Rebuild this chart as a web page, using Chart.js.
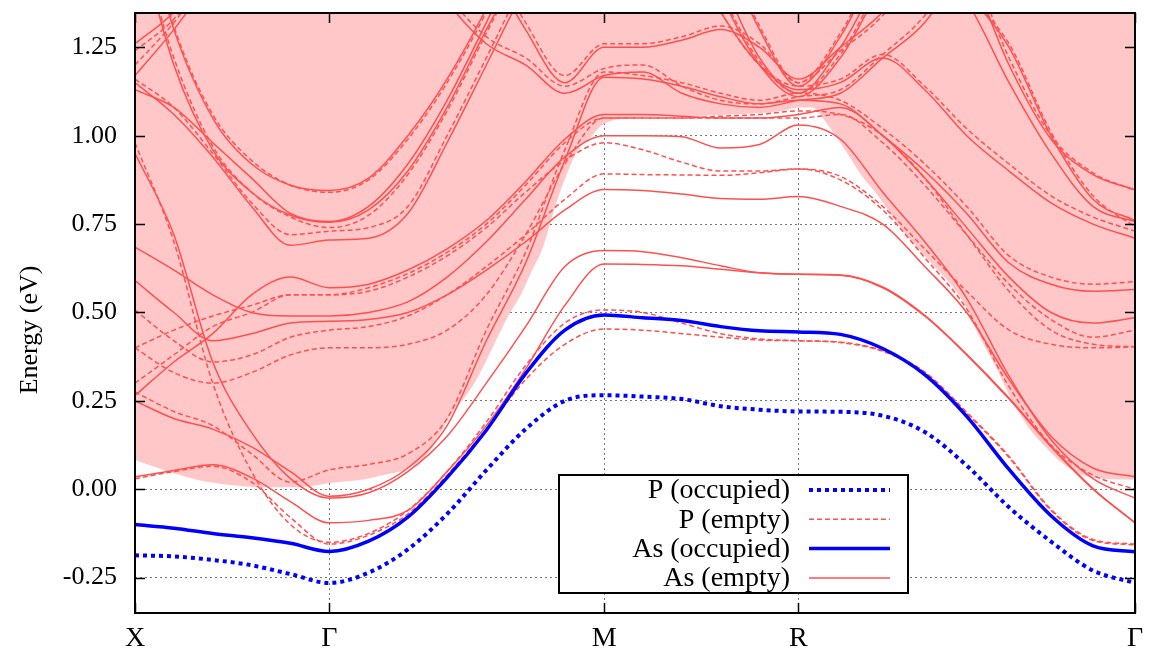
<!DOCTYPE html>
<html>
<head>
<meta charset="utf-8">
<script src="https://cdn.jsdelivr.net/npm/chart.js@4.4.1/dist/chart.umd.min.js"></script>
<style>
  body { margin: 0; background: #fff; }
  #wrap { width: 1156px; height: 657px; }
</style>
</head>
<body>
<div id="wrap"><canvas id="bands" width="1156" height="657"></canvas></div>
<script>
// k-path (units of 2pi/a): X - Gamma - M - R - Gamma
const kPoints = [0, 0.1, 0.2, 0.3, 0.4, 0.5,
  0.601, 0.702, 0.803, 0.904, 1.005, 1.106, 1.2071,
  1.307, 1.407, 1.507, 1.607, 1.7071,
  1.815, 1.924, 2.032, 2.140, 2.249, 2.357, 2.465, 2.5731];
const kTicks = [0, 0.5, 1.2071, 1.7071, 2.5731];
const kLabels = ['X', 'Γ', 'M', 'R', 'Γ'];
const energyTicks = [-0.25, 0, 0.25, 0.5, 0.75, 1.0, 1.25];

// occupied bands (eV)
const asOccupied = [-0.10, -0.11, -0.125, -0.137, -0.153, -0.176,
  -0.147, -0.079, 0.033, 0.167, 0.327, 0.45, 0.493,
  0.485, 0.477, 0.46, 0.448, 0.445,
  0.438, 0.398, 0.324, 0.206, 0.056, -0.075, -0.16, -0.177];
const pOccupied = [-0.187, -0.19, -0.2, -0.215, -0.24, -0.265,
  -0.236, -0.17, -0.07, 0.054, 0.17, 0.25, 0.266,
  0.262, 0.255, 0.235, 0.225, 0.22,
  0.219, 0.208, 0.162, 0.067, -0.051, -0.148, -0.23, -0.265];

// empty bands (eV)
const asEmpty = [
  [0.035, 0.053, 0.069, 0.033, -0.035, -0.095, -0.088, -0.06, 0.05, 0.18, 0.34, 0.52, 0.637, 0.636, 0.632, 0.622, 0.612, 0.608, 0.605, 0.57, 0.49, 0.38, 0.255, 0.12, 0.0, -0.095],
  [0.95, 0.72, 0.36, 0.16, 0.03, -0.025, -0.01, 0.05, 0.15, 0.3, 0.46, 0.63, 0.675, 0.672, 0.655, 0.632, 0.612, 0.608, 0.606, 0.572, 0.492, 0.382, 0.258, 0.122, 0.002, -0.095],
  [0.59, 0.5, 0.42, 0.44, 0.47, 0.475, 0.48, 0.5, 0.55, 0.62, 0.7, 0.79, 0.848, 0.845, 0.835, 0.822, 0.82, 0.828, 0.8, 0.75, 0.63, 0.5, 0.31, 0.15, 0.06, 0.035],
  [0.685, 0.62, 0.55, 0.5, 0.49, 0.49, 0.5, 0.53, 0.6, 0.7, 0.82, 0.94, 1.0, 1.0, 0.997, 0.965, 0.975, 1.03, 0.99, 0.84, 0.7, 0.54, 0.32, 0.14, 0.03, -0.025],
  [0.265, 0.36, 0.44, 0.55, 0.6, 0.57, 0.58, 0.62, 0.68, 0.76, 0.87, 0.99, 1.06, 1.06, 1.055, 1.05, 1.05, 1.06, 1.08, 1.0, 0.88, 0.74, 0.6, 0.5, 0.47, 0.485],
  [0.25, 0.2, 0.17, 0.12, 0.05, -0.02, 0.0, 0.06, 0.18, 0.42, 0.64, 0.93, 1.165, 1.16, 1.14, 1.11, 1.09, 1.1, 1.09, 1.0, 0.9, 0.78, 0.64, 0.58, 0.56, 0.565],
  [1.7, 1.3, 1.05, 0.92, 0.86, 0.845, 0.88, 1.0, 1.16, 1.36, 1.6, 1.8, 1.9, 1.9, 1.8, 1.55, 1.3, 1.14, 1.28, 1.5, 1.6, 1.48, 1.2, 0.99, 0.89, 0.847],
  [1.6, 1.2, 0.96, 0.84, 0.775, 0.755, 0.79, 0.9, 1.08, 1.3, 1.5, 1.7, 1.8, 1.8, 1.65, 1.4, 1.2, 1.11, 1.22, 1.42, 1.5, 1.4, 1.25, 1.0, 0.82, 0.76],
  [1.15, 1.06, 0.94, 0.8, 0.69, 0.705, 0.71, 0.78, 0.98, 1.2, 1.42, 1.6, 1.7, 1.7, 1.55, 1.35, 1.2, 1.13, 1.15, 1.22, 1.13, 1.0, 0.9, 0.81, 0.75, 0.71],
  [1.17, 1.3, 1.45, 1.6, 1.7, 1.75, 1.7, 1.55, 1.38, 1.26, 1.2, 1.12, 1.17, 1.18, 1.12, 1.09, 1.08, 1.1, 1.12, 1.22, 1.32, 1.5, 1.7, 1.8, 1.85, 1.85],
  [1.13, 1.08, 0.98, 0.88, 0.78, 0.757, 0.8, 0.92, 1.1, 1.32, 1.55, 1.75, 1.85, 1.85, 1.7, 1.45, 1.22, 1.12, 1.25, 1.45, 1.5, 1.38, 1.15, 0.95, 0.8, 0.757],
  [1.26, 1.35, 1.5, 1.7, 1.9, 2.0, 2.0, 1.9, 1.7, 1.5, 1.3, 1.15, 1.25, 1.25, 1.27, 1.3, 1.25, 1.16, 1.25, 1.35, 1.5, 1.7, 1.9, 2.0, 2.0, 2.0]
];
const pEmpty = [
  [0.03, 0.05, 0.065, 0.02, -0.08, -0.155, -0.13, -0.07, 0.04, 0.17, 0.31, 0.41, 0.453, 0.45, 0.44, 0.43, 0.422, 0.42, 0.415, 0.39, 0.33, 0.215, 0.09, -0.06, -0.145, -0.157],
  [0.98, 0.70, 0.3, 0.05, -0.1, -0.15, -0.125, -0.06, 0.05, 0.19, 0.35, 0.47, 0.507, 0.50, 0.47, 0.44, 0.425, 0.42, 0.416, 0.392, 0.332, 0.218, 0.093, -0.057, -0.142, -0.155],
  [0.507, 0.42, 0.36, 0.38, 0.43, 0.45, 0.46, 0.49, 0.55, 0.63, 0.72, 0.82, 0.892, 0.89, 0.889, 0.888, 0.895, 0.906, 0.875, 0.79, 0.655, 0.51, 0.29, 0.125, 0.04, 0.0],
  [0.40, 0.45, 0.49, 0.52, 0.55, 0.55, 0.56, 0.6, 0.66, 0.74, 0.84, 0.93, 0.98, 0.96, 0.925, 0.9, 0.9, 0.906, 0.885, 0.8, 0.68, 0.56, 0.45, 0.41, 0.40, 0.403],
  [0.275, 0.22, 0.18, 0.1, 0.02, 0.055, 0.07, 0.1, 0.2, 0.45, 0.67, 0.96, 1.18, 1.17, 1.15, 1.12, 1.1, 1.12, 1.1, 1.02, 0.92, 0.8, 0.66, 0.6, 0.58, 0.587],
  [0.30, 0.38, 0.46, 0.5, 0.55, 0.55, 0.57, 0.61, 0.67, 0.75, 0.86, 0.98, 1.05, 1.05, 1.05, 1.05, 1.05, 1.05, 1.06, 0.98, 0.86, 0.72, 0.58, 0.48, 0.43, 0.45],
  [1.72, 1.31, 1.06, 0.93, 0.86, 0.84, 0.875, 0.99, 1.15, 1.35, 1.6, 1.8, 1.9, 1.9, 1.8, 1.56, 1.31, 1.15, 1.29, 1.51, 1.6, 1.5, 1.22, 1.0, 0.895, 0.845],
  [1.6, 1.22, 0.97, 0.84, 0.77, 0.74, 0.775, 0.89, 1.07, 1.29, 1.5, 1.7, 1.8, 1.8, 1.66, 1.41, 1.21, 1.12, 1.23, 1.43, 1.5, 1.4, 1.26, 1.01, 0.83, 0.742],
  [1.16, 1.08, 0.95, 0.81, 0.72, 0.73, 0.74, 0.8, 1.0, 1.22, 1.44, 1.6, 1.7, 1.7, 1.55, 1.35, 1.2, 1.14, 1.16, 1.23, 1.14, 1.02, 0.92, 0.83, 0.77, 0.73],
  [0.40, 0.33, 0.3, 0.33, 0.38, 0.40, 0.40, 0.41, 0.45, 0.55, 0.72, 0.92, 1.05, 1.05, 1.05, 1.055, 1.06, 1.07, 1.06, 1.0, 0.88, 0.72, 0.56, 0.45, 0.41, 0.403],
  [1.2, 1.32, 1.47, 1.62, 1.72, 1.76, 1.72, 1.57, 1.4, 1.28, 1.22, 1.14, 1.19, 1.2, 1.14, 1.1, 1.09, 1.11, 1.13, 1.23, 1.34, 1.52, 1.72, 1.82, 1.86, 1.86],
  [1.24, 1.33, 1.48, 1.68, 1.88, 2.0, 2.0, 1.9, 1.72, 1.52, 1.32, 1.17, 1.26, 1.26, 1.28, 1.31, 1.26, 1.15, 1.24, 1.34, 1.5, 1.7, 1.9, 2.0, 2.0, 2.0]
];

// lower edge of the shaded continuum
const continuumK = [0, 0.072, 0.16, 0.244, 0.329, 0.417, 0.502, 0.618, 0.746, 0.816, 0.85, 0.883, 0.917, 0.96, 0.995, 1.022, 1.047, 1.089, 1.14, 1.176, 1.202, 1.276, 1.405, 1.534, 1.662, 1.706, 1.742, 1.783, 1.827, 1.871, 1.912, 1.956, 1.999, 2.041, 2.128, 2.169, 2.213, 2.257, 2.298, 2.342, 2.385, 2.427, 2.470, 2.5731];
const continuumEdge = [0.083, 0.055, 0.027, 0.012, 0.006, 0.006, 0.018, 0.035, 0.092, 0.215, 0.262, 0.319, 0.394, 0.489, 0.555, 0.62, 0.677, 0.826, 0.96, 1.0, 1.03, 1.05, 1.055, 1.06, 1.07, 1.08, 1.08, 1.03, 0.96, 0.885, 0.83, 0.76, 0.70, 0.65, 0.535, 0.44, 0.35, 0.25, 0.177, 0.12, 0.075, 0.045, 0.032, 0.027];

const red = 'rgb(255, 80, 80)';
const blue = 'rgb(0, 0, 255)';
const pink = 'rgb(255, 199, 199)';

function toPoints(values) {
    return values.map((e, i) => ({ x: kPoints[i], y: e }));
}

const datasets = [];
datasets.push({ label: 'P (occupied)', data: toPoints(pOccupied), borderColor: blue, borderWidth: 4, borderDash: [4, 4], order: 0 });
datasets.push({ label: 'As (occupied)', data: toPoints(asOccupied), borderColor: blue, borderWidth: 3.5, order: 0 });
asEmpty.forEach(band => {
    datasets.push({ label: 'As (empty)', data: toPoints(band), borderColor: red, borderWidth: 1.5, order: 1 });
});
pEmpty.forEach(band => {
    datasets.push({ label: 'P (empty)', data: toPoints(band), borderColor: red, borderWidth: 1.5, borderDash: [5, 3], order: 1 });
});
datasets.push({
    label: 'continuum',
    data: continuumEdge.map((e, i) => ({ x: continuumK[i], y: e })),
    borderColor: 'rgba(0,0,0,0)',
    backgroundColor: pink,
    fill: 'end',
    order: 2
});

const legendItems = [
    { text: 'P (occupied)', color: blue, width: 4, dash: [4, 4] },
    { text: 'P (empty)', color: red, width: 1.5, dash: [5, 3] },
    { text: 'As (occupied)', color: blue, width: 3.5, dash: [] },
    { text: 'As (empty)', color: red, width: 1.5, dash: [] }
];

// frame, inward ticks, y title and legend box, drawn like gnuplot
const decorations = {
    id: 'decorations',
    afterDraw(chart) {
        const { ctx, chartArea: a, scales } = chart;
        ctx.save();
        ctx.strokeStyle = '#000';
        ctx.lineWidth = 1.5;
        ctx.setLineDash([]);
        ctx.beginPath();
        energyTicks.forEach(v => {
            const y = Math.round(scales.y.getPixelForValue(v)) + 0.5;
            ctx.moveTo(a.left, y); ctx.lineTo(a.left + 10, y);
            ctx.moveTo(a.right, y); ctx.lineTo(a.right - 10, y);
        });
        kTicks.forEach(k => {
            const x = Math.round(scales.x.getPixelForValue(k)) + 0.5;
            ctx.moveTo(x, a.bottom); ctx.lineTo(x, a.bottom - 10);
            ctx.moveTo(x, a.top); ctx.lineTo(x, a.top + 10);
        });
        ctx.stroke();
        ctx.lineWidth = 2;
        ctx.strokeRect(a.left, a.top, a.right - a.left, a.bottom - a.top);

        ctx.fillStyle = '#000';
        ctx.font = '26px "Liberation Serif"';
        ctx.textAlign = 'center';
        ctx.textBaseline = 'middle';
        ctx.translate(30, 330);
        ctx.rotate(-Math.PI / 2);
        ctx.fillText('Energy (eV)', 0, 0);
        ctx.setTransform(1, 0, 0, 1, 0, 0);

        // legend
        const box = { x: 559, y: 475, w: 349, h: 118 };
        ctx.fillStyle = '#fff';
        ctx.fillRect(box.x, box.y, box.w, box.h);
        ctx.lineWidth = 2;
        ctx.strokeRect(box.x, box.y, box.w, box.h);
        ctx.font = '28px "Liberation Serif"';
        ctx.textAlign = 'right';
        legendItems.forEach((item, i) => {
            const y = 490 + i * 29.3;
            ctx.fillStyle = '#000';
            ctx.fillText(item.text, 790, y + 1);
            ctx.beginPath();
            ctx.strokeStyle = item.color;
            ctx.lineWidth = item.width;
            ctx.setLineDash(item.dash);
            ctx.moveTo(809, y);
            ctx.lineTo(890, y);
            ctx.stroke();
        });
        ctx.restore();
    }
};

Chart.defaults.font.family = '"Liberation Serif"';
Chart.defaults.font.size = 26;
Chart.defaults.color = '#000';

new Chart(document.getElementById('bands'), {
    type: 'line',
    data: { datasets: datasets },
    options: {
        responsive: false,
        animation: false,
        devicePixelRatio: 1,
        layout: { padding: { top: 13, right: 21, left: 0, bottom: 0 } },
        elements: {
            point: { radius: 0 },
            line: { cubicInterpolationMode: 'monotone', fill: false }
        },
        plugins: { legend: { display: false }, tooltip: { enabled: false } },
        scales: {
            x: {
                type: 'linear',
                min: 0,
                max: 2.5731,
                afterBuildTicks: s => { s.ticks = kTicks.map(v => ({ value: v })); },
                afterFit: s => { s.height = 44; s.paddingLeft = 0; s.paddingRight = 0; },
                ticks: {
                    autoSkip: false,
                    maxRotation: 0,
                    padding: 9,
                    font: { size: 28 },
                    callback: (v, i) => kLabels[i]
                },
                grid: { color: '#777', lineWidth: 1, drawTicks: false },
                border: { display: false, dash: [2, 3] }
            },
            y: {
                min: -0.35,
                max: 1.347,
                afterBuildTicks: s => { s.ticks = energyTicks.map(v => ({ value: v })); },
                afterFit: s => { s.width = 135; s.paddingTop = 0; s.paddingBottom = 0; },
                ticks: {
                    padding: 18,
                    callback: v => v.toFixed(2)
                },
                grid: { color: '#777', lineWidth: 1, drawTicks: false },
                border: { display: false, dash: [2, 3] }
            }
        }
    },
    plugins: [decorations]
});
</script>
</body>
</html>
